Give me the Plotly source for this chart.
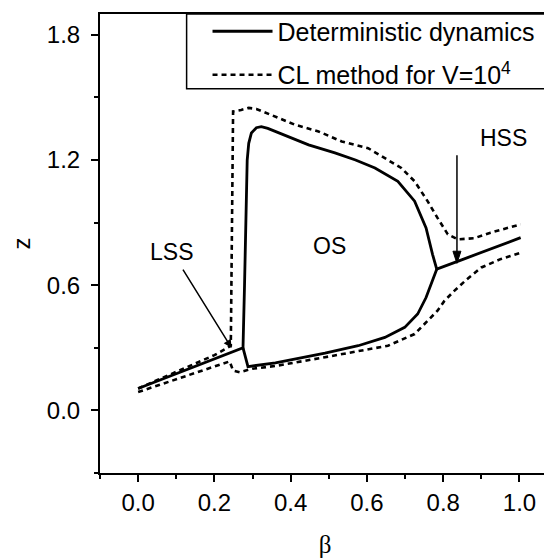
import plotly.graph_objects as go

# Deterministic dynamics: LSS branch + limit-cycle maximum + HSS branch
det_max_beta = [0.0, 0.275, 0.279, 0.283, 0.286, 0.290, 0.297, 0.310, 0.323, 0.340, 0.360,
                0.400, 0.447, 0.516, 0.570, 0.621, 0.681, 0.725, 0.755, 0.772, 0.783,
                0.850, 0.920, 1.003]
det_max_z = [0.105, 0.300, 0.600, 0.950, 1.200, 1.280, 1.330, 1.355, 1.360, 1.352, 1.337,
             1.305, 1.273, 1.234, 1.200, 1.162, 1.098, 1.003, 0.875, 0.748, 0.677,
             0.723, 0.771, 0.828]
# limit-cycle minimum
det_min_beta = [0.275, 0.288, 0.360, 0.490, 0.577, 0.647, 0.699, 0.733, 0.755, 0.772, 0.783]
det_min_z = [0.300, 0.210, 0.228, 0.274, 0.310, 0.350, 0.398, 0.462, 0.541, 0.621, 0.677]

# CL method for V=10^4
cl_up_beta = [0.0, 0.05, 0.10, 0.15, 0.20, 0.243, 0.245, 0.247, 0.249, 0.270, 0.290, 0.310,
              0.330, 0.360, 0.412, 0.473, 0.534, 0.603, 0.647, 0.690, 0.725, 0.759,
              0.785, 0.812, 0.838, 0.881, 0.924, 1.003]
cl_up_z = [0.105, 0.145, 0.185, 0.225, 0.265, 0.310, 0.600, 1.000, 1.433, 1.440, 1.450, 1.445,
           1.430, 1.409, 1.369, 1.337, 1.289, 1.257, 1.210, 1.162, 1.098, 1.003,
           0.923, 0.844, 0.820, 0.825, 0.852, 0.892]
cl_low_beta = [0.0, 0.10, 0.20, 0.240, 0.249, 0.266, 0.300, 0.360, 0.490, 0.577, 0.655,
               0.725, 0.759, 0.785, 0.803, 0.829, 0.860, 0.900, 0.950, 1.003]
cl_low_z = [0.088, 0.150, 0.210, 0.235, 0.191, 0.183, 0.200, 0.213, 0.255, 0.283, 0.310,
            0.366, 0.430, 0.478, 0.525, 0.573, 0.625, 0.685, 0.725, 0.756]

x_ticks = [0.0, 0.2, 0.4, 0.6, 0.8, 1.0]
y_ticks = [0.0, 0.6, 1.2, 1.8]

# annotation anchors (beta, z)
lss_text = (0.0885, 0.761)
lss_head = (0.245, 0.299)
hss_text = (0.959, 1.305)
hss_beta, hss_tail_z, hss_head_z = 0.836, 1.223, 0.705
os_text = (0.501, 0.789)

FONT = "Liberation Sans, Arial, sans-serif"

fig = go.Figure()
fig.add_trace(go.Scatter(
    x=det_max_beta + [None] + det_min_beta,
    y=det_max_z + [None] + det_min_z,
    mode="lines", name="Deterministic dynamics", legendgroup="det",
    line=dict(color="black", width=2.8), connectgaps=False))
fig.add_trace(go.Scatter(
    x=cl_up_beta + [None] + cl_low_beta,
    y=cl_up_z + [None] + cl_low_z,
    mode="lines", name="CL method for V=10<sup>4</sup>", legendgroup="cl",
    line=dict(color="black", width=2.6, dash="5px,4px"), connectgaps=False))

axis_common = dict(showline=True, linecolor="black", linewidth=2, mirror=True,
                   ticks="outside", ticklen=7, tickwidth=2, tickcolor="black",
                   showgrid=False, zeroline=False,
                   tickfont=dict(family=FONT, size=24, color="black"))
fig.update_xaxes(range=[-0.1, 1.08], tickvals=x_ticks,
                 ticktext=[f"{v:.1f}" for v in x_ticks],
                 title=dict(text="β", standoff=21,
                            font=dict(family="Liberation Serif, Times New Roman, serif",
                                      size=25, color="black")),
                 minor=dict(ticks="outside", ticklen=4, tickwidth=2, tickcolor="black",
                            dtick=0.1, tick0=-0.1), **axis_common)
fig.update_yaxes(range=[-0.3, 1.9], tickvals=y_ticks,
                 ticktext=[f"{v:.1f}" for v in y_ticks],
                 ticklabelstandoff=6,
                 title=dict(text="z", standoff=14,
                            font=dict(family=FONT, size=24, color="black")),
                 minor=dict(ticks="outside", ticklen=4, tickwidth=2, tickcolor="black",
                            dtick=0.3, tick0=0.0), **axis_common)

ann_font = dict(family=FONT, size=23, color="black")
fig.add_annotation(x=lss_head[0], y=lss_head[1], ax=lss_text[0], ay=lss_text[1],
                   axref="x", ayref="y", xref="x", yref="y", text="LSS", font=ann_font,
                   showarrow=True, arrowhead=2, arrowsize=1.1, arrowwidth=1.5,
                   arrowcolor="black", startstandoff=4)
fig.add_annotation(x=hss_text[0], y=hss_text[1], text="HSS", showarrow=False, font=ann_font)
fig.add_annotation(x=os_text[0], y=os_text[1], text="OS", showarrow=False, font=ann_font)
# HSS arrow: shaft + head
fig.add_shape(type="line", x0=hss_beta, x1=hss_beta, y0=hss_tail_z, y1=hss_head_z + 0.04,
              xref="x", yref="y", line=dict(color="black", width=1.5))
fig.add_shape(type="path", xref="x", yref="y",
              path=(f"M {hss_beta - 0.0105},{hss_head_z + 0.058} "
                    f"L {hss_beta + 0.0105},{hss_head_z + 0.058} "
                    f"L {hss_beta},{hss_head_z} Z"),
              fillcolor="black", line=dict(color="black", width=1))

# legend frame (extends past the right edge as in the reference)
fig.add_shape(type="rect", xref="paper", yref="paper",
              x0=(187 - 100) / 452, x1=1.05, y0=(473 - 88) / 460, y1=1.0,
              fillcolor="white", line=dict(color="black", width=1.5), layer="above")

fig.update_layout(
    width=544, height=551,
    margin=dict(l=92, r=0, t=5, b=86),
    plot_bgcolor="white", paper_bgcolor="white",
    showlegend=True,
    legend=dict(x=(208 - 100) / 452, y=1.012, xanchor="left", yanchor="top",
                bgcolor="rgba(0,0,0,0)", borderwidth=0,
                font=dict(family=FONT, size=25, color="black"),
                itemwidth=60, tracegroupgap=8),
)

fig.write_html("out.html")
